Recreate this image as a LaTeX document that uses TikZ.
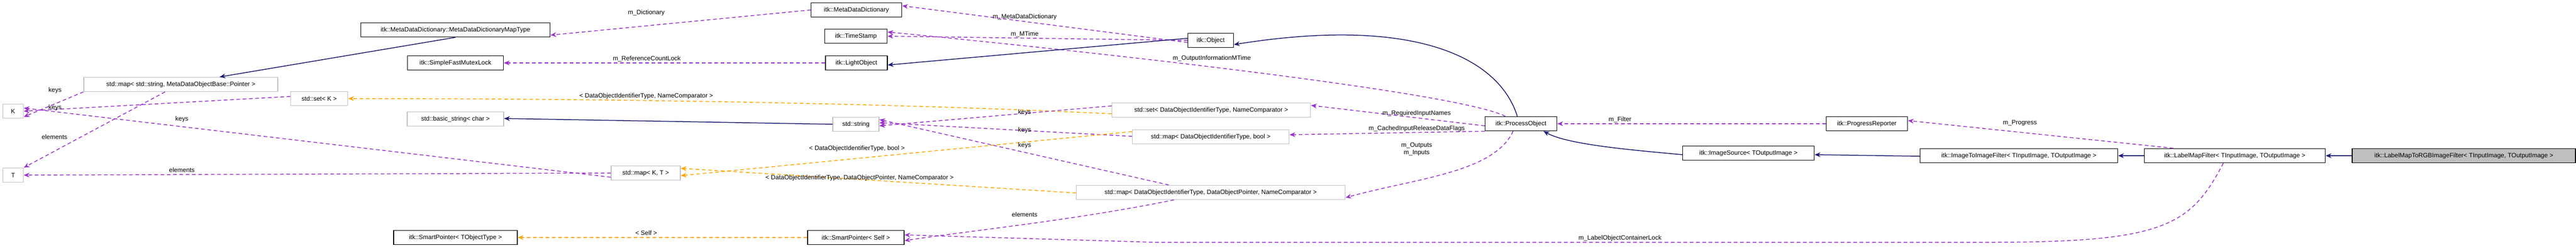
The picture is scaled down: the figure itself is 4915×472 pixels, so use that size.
\documentclass[tikz,border=0pt]{standalone}
\usepackage{fontspec}
\setmainfont{Liberation Sans}
\usetikzlibrary{arrows.meta}
\definecolor{navy}{HTML}{191970}
\definecolor{purp}{HTML}{9A32CD}
\definecolor{orng}{HTML}{FFA500}
\definecolor{gbord}{HTML}{BFBFBF}
\begin{document}
\begin{tikzpicture}[x=1pt,y=-1pt,
  every node/.style={font=\fontsize{12}{14}\selectfont, inner sep=0pt},
  blk/.style={draw=black, line width=1.5pt, fill=white, minimum height=27pt},
  gry/.style={draw=gbord, line width=1.5pt, fill=white, minimum height=27pt},
  tip/.style={-{Stealth[length=11pt,width=9pt]}},
  inh/.style={tip, draw=navy, line width=1.5pt},
  use/.style={tip, draw=purp, line width=1.5pt, dash pattern=on 7pt off 5pt},
  tpl/.style={tip, draw=orng, line width=1.5pt, dash pattern=on 7pt off 5pt},
  lbl/.style={font=\fontsize{12}{14}\selectfont, align=center}]
\useasboundingbox (0,0) rectangle (4915,472);
% nodes
\node[blk, minimum width=361] (mdmt) at (869,57) {itk::MetaDataDictionary::MetaDataDictionaryMapType};
\node[blk, minimum width=183] (sfml) at (869,120) {itk::SimpleFastMutexLock};
\node[gry, minimum width=370] (smap) at (345,161) {std::map< std::string, MetaDataObjectBase::Pointer >};
\node[gry, minimum width=39] (K) at (25,212) {K};
\node[gry, minimum width=39] (T) at (25,334) {T};
\node[gry, minimum width=109] (setK) at (609,188) {std::set< K >};
\node[gry, minimum width=184] (bstr) at (869,227) {std::basic\_string< char >};
\node[blk, minimum width=236] (spt) at (869,453) {itk::SmartPointer< TObjectType >};
\node[blk, minimum width=173] (mdd) at (1634,19) {itk::MetaDataDictionary};
\node[blk, minimum width=119] (ts) at (1633,69) {itk::TimeStamp};
\node[blk, minimum width=118] (lo) at (1634,120) {itk::LightObject};
\node[gry, minimum width=88] (str) at (1633,237) {std::string};
\node[gry, minimum width=132] (mapKT) at (1232,330) {std::map< K, T >};
\node[blk, minimum width=184] (sps) at (1633,453) {itk::SmartPointer< Self >};
\node[blk, minimum width=87] (obj) at (2310,77) {itk::Object};
\node[gry, minimum width=379] (setDN) at (2311,210) {std::set< DataObjectIdentifierType, NameComparator >};
\node[gry, minimum width=299] (mapDB) at (2310,261) {std::map< DataObjectIdentifierType, bool >};
\node[gry, minimum width=513] (mapDDN) at (2310,367) {std::map< DataObjectIdentifierType, DataObjectPointer, NameComparator >};
\node[blk, minimum width=137] (po) at (2902,236) {itk::ProcessObject};
\node[blk, minimum width=155] (pr) at (3562,236) {itk::ProgressReporter};
\node[blk, minimum width=251] (is) at (3336,292) {itk::ImageSource< TOutputImage >};
\node[blk, minimum width=377] (itif) at (3852,297) {itk::ImageToImageFilter< TInputImage, TOutputImage >};
\node[blk, minimum width=345] (lmf) at (4264,297) {itk::LabelMapFilter< TInputImage, TOutputImage >};
\node[blk, fill=gbord, minimum width=426] (rgb) at (4701,297) {itk::LabelMapToRGBImageFilter< TInputImage, TOutputImage >};
% edges
\draw[inh] (mdmt.south) -- ([xshift=74]smap.north);
\draw[use] (mdd.west) -- ([yshift=-10]mdmt.east);
\draw[use] ([yshift=-4]obj.west) -- ([yshift=8]mdd.east);
\draw[use] (obj.west) -- (ts.east);
\draw[use] ([xshift=-30]po.north) .. controls (2790,180) and (2200,110) .. ([yshift=8]ts.east);
\draw[inh] ([yshift=4]obj.west) -- ([yshift=-4]lo.east);
\draw[use] (lo.west) -- (sfml.east);
\draw[inh] ([xshift=-7]po.north) .. controls (2860,110) and (2700,30) .. ([yshift=-8]obj.east);
\draw[use] (smap.south west) -- ([yshift=-11]K.east);
\draw[use] ([xshift=-30]smap.south) -- (T.north east);
\draw[use] ([yshift=4]setK.west) -- (K.east);
\draw[use] ([yshift=-8]mapKT.west) -- ([yshift=6]K.east);
\draw[use] (mapKT.west) -- (T.east);
\draw[tpl] ([yshift=-7]setDN.west) .. controls (1600,192) and (1000,188) .. (setK.east);
\draw[use] ([yshift=8]setDN.west) -- ([yshift=-3]str.east);
\draw[use] ([yshift=1]mapDB.west) -- ([yshift=3]str.east);
\draw[tpl] ([yshift=10]mapDB.west) -- ([yshift=-5]mapKT.east);
\draw[use] ([xshift=-80]mapDDN.north) -- ([yshift=9]str.east);
\draw[tpl] ([yshift=-1]mapDDN.west) -- ([yshift=9]mapKT.east);
\draw[use] ([xshift=-70]mapDDN.south) .. controls (2050,420) and (1850,440) .. ([yshift=-6]sps.east);
\draw[inh] (str.west) -- ([yshift=1]bstr.east);
\draw[tpl] (sps.west) -- (spt.east);
\draw[use] ([yshift=-4]po.west) -- ([yshift=9]setDN.east);
\draw[use] (po.south west) -- ([yshift=4]mapDB.east);
\draw[use] ([xshift=-15]po.south) .. controls (2850,330) and (2700,340) .. ([yshift=-10]mapDDN.east);
\draw[use] (pr.west) -- (po.east);
\draw[use] ([xshift=-117]lmf.north) -- ([yshift=6]pr.east);
\draw[use] ([xshift=-22]lmf.south) .. controls (4180,430) and (4130,462) .. (3800,462) -- (2200,462) -- ([yshift=5]sps.east);
\draw[inh] ([yshift=-3]is.west) .. controls (3100,285) and (2990,275) .. ([xshift=43]po.south);
\draw[inh] ([yshift=-1]itif.west) -- ([yshift=-3]is.east);
\draw[inh] (lmf.west) -- (itif.east);
\draw[inh] (rgb.west) -- (lmf.east);
% labels
\node[lbl] (l1) at (1233,24) {m\_Dictionary};
\node[lbl] (l2) at (1955,32) {m\_MetaDataDictionary};
\node[lbl] (l3) at (1955,65) {m\_MTime};
\node[lbl] (l4) at (2312,111) {m\_OutputInformationMTime};
\node[lbl] (l5) at (1234,112) {m\_ReferenceCountLock};
\node[lbl] (l6) at (105,172) {keys};
\node[lbl] (l7) at (105,205) {keys};
\node[lbl] (l8) at (104,261) {elements};
\node[lbl] (l9) at (347,227) {keys};
\node[lbl] (l10) at (347,324) {elements};
\node[lbl] (l11) at (1233,183) {< DataObjectIdentifierType, NameComparator >};
\node[lbl] (l12) at (1955,214) {keys};
\node[lbl] (l13) at (1955,248) {keys};
\node[lbl] (l14) at (1955,277) {keys};
\node[lbl] (l15) at (1635,283) {< DataObjectIdentifierType, bool >};
\node[lbl] (l16) at (1640,339) {< DataObjectIdentifierType, DataObjectPointer, NameComparator >};
\node[lbl] (l17) at (1955,409) {elements};
\node[lbl] (l18) at (1233,444) {< Self >};
\node[lbl] (l19) at (2703,216) {m\_RequiredInputNames};
\node[lbl] (l20) at (2703,245) {m\_CachedInputReleaseDataFlags};
\node[lbl] (l21) at (2703,285) {m\_Outputs\\m\_Inputs};
\node[lbl] (l22) at (3091,228) {m\_Filter};
\node[lbl] (l23) at (3854,235) {m\_Progress};
\node[lbl] (l24) at (3091,454) {m\_LabelObjectContainerLock};
\end{tikzpicture}
\end{document}
